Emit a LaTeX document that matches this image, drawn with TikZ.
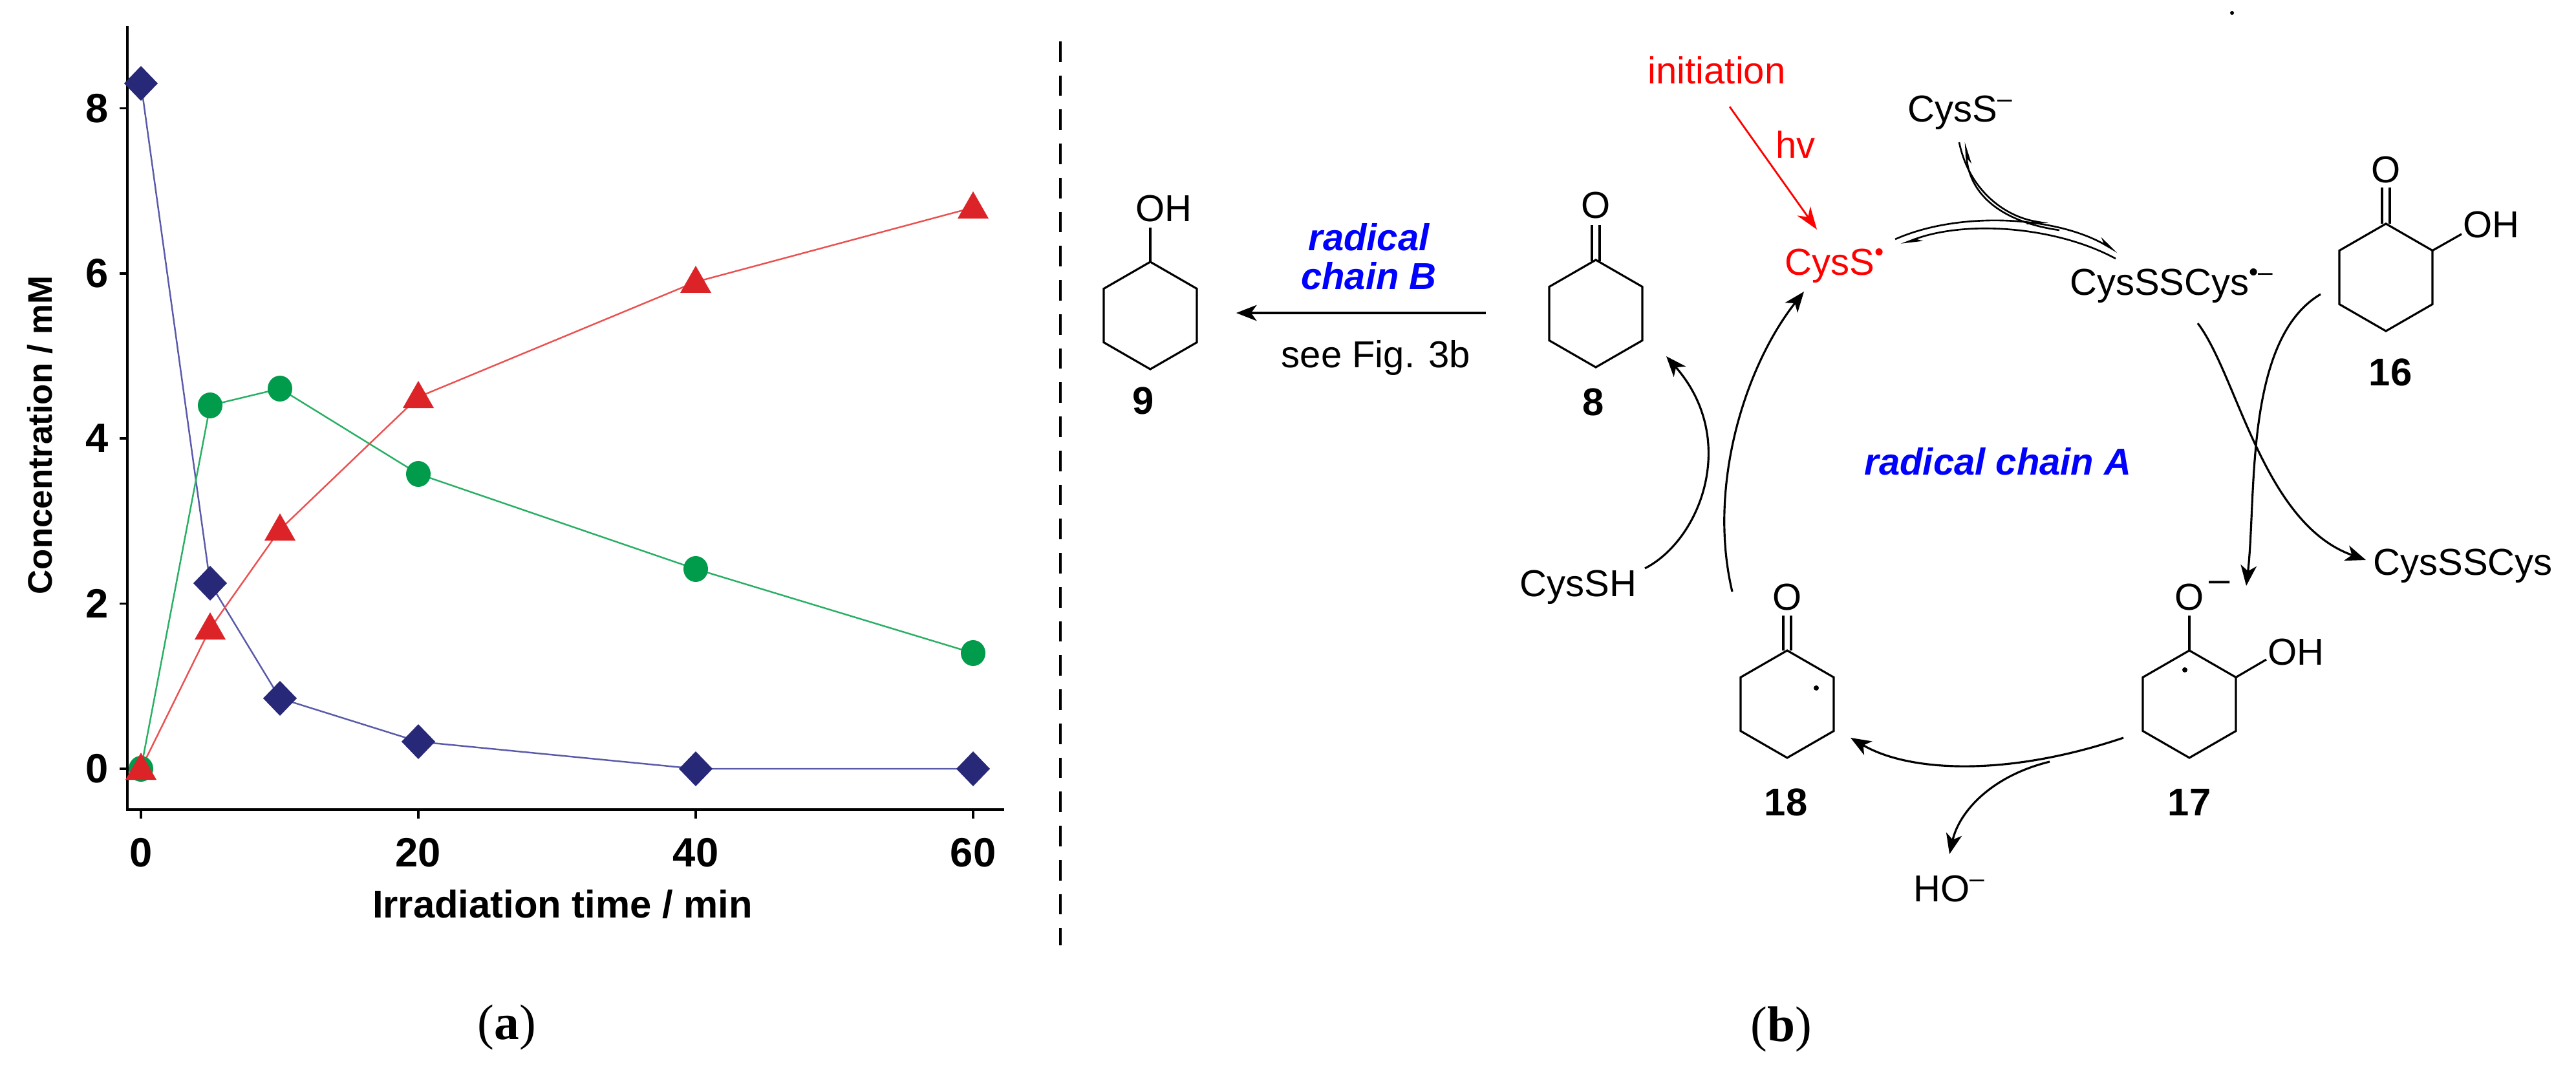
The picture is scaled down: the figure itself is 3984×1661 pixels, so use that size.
\documentclass[tikz,border=0pt]{standalone}
\usepackage{fontspec}
\setmainfont{Liberation Sans}
\newfontfamily\serifface{Liberation Serif}
\usetikzlibrary{arrows.meta}
\definecolor{dblue}{RGB}{40,40,120}
\definecolor{dgreen}{RGB}{0,155,75}
\definecolor{dred}{RGB}{220,35,40}
\definecolor{lblue}{RGB}{90,90,170}
\definecolor{lgreen}{RGB}{40,175,100}
\definecolor{lred}{RGB}{235,80,80}
\tikzset{
  chem/.style={font=\fontsize{16.5}{18}\selectfont},
  lab/.style={font=\fontsize{17}{19}\selectfont\bfseries},
  tick/.style={font=\fontsize{18}{20}\selectfont\bfseries},
  bond/.style={line width=0.9pt},
  rx/.style={line width=0.9pt,-{Stealth[length=9pt,width=7pt,inset=2.5pt]}},
  hp/.style={line width=0.75pt,-{Stealth[harpoon,length=8pt,width=4pt]}},
  hpr/.style={line width=0.75pt,-{Stealth[harpoon,swap,length=8pt,width=4pt]}},
  ring/.pic={\draw[bond] (0,-83)--(72,-41.5)--(72,41.5)--(0,83)--(-72,41.5)--(-72,-41.5)--cycle;},
}
\newcommand\dmark[2]{\fill[dblue] (#1+26,#2)--(#1,#2-27)--(#1-26,#2)--(#1,#2+27)--cycle;}
\newcommand\cmark[2]{\fill[dgreen] (#1,#2) ellipse (19 and 20);}
\newcommand\tmark[2]{\fill[dred] (#1-24,#2+17)--(#1+24,#2+17)--(#1,#2-25)--cycle;}
\begin{document}
\begin{tikzpicture}[x=0.01cm,y=-0.01cm]
\useasboundingbox (0,0) rectangle (3984,1661);
% ---------- panel (a) ----------
\draw[line width=1.3pt] (197,40)--(197,1252)--(1553,1252);
\foreach \v in {0,2,4,6,8} {
  \draw[line width=1pt] (197,1189-127.7*\v)--(185,1189-127.7*\v);
  \node[tick,anchor=east] at (180,1189-127.7*\v) {\v};}
\foreach \t in {0,20,40,60} {
  \draw[line width=1pt] (218+21.45*\t,1252)--(218+21.45*\t,1266);
  \node[tick] at (218+21.45*\t,1319) {\t};}
\node[font=\fontsize{17}{19}\selectfont\bfseries] (xt) at (870,1398) {Irradiation time / min};
\node[font=\fontsize{15}{17}\selectfont\bfseries,rotate=90] (yt) at (62,673) {Concentration / mM};
\draw[lblue,line width=0.7pt] (218,129)--(325,902)--(433,1080)--(647,1147)--(1076,1189)--(1505,1189);
\draw[lgreen,line width=0.7pt] (218,1189)--(325,627)--(433,601)--(647,733)--(1076,880)--(1505,1010);
\draw[lred,line width=0.7pt] (218,1189)--(325,972)--(433,819)--(647,614)--(1076,436)--(1505,321);
\cmark{218}{1189}\cmark{325}{627}\cmark{433}{601}\cmark{647}{733}\cmark{1076}{880}\cmark{1505}{1010}
\dmark{218}{129}\dmark{325}{902}\dmark{433}{1080}\dmark{647}{1147}\dmark{1076}{1189}\dmark{1505}{1189}
\tmark{218}{1189}\tmark{325}{972}\tmark{433}{819}\tmark{647}{614}\tmark{1076}{436}\tmark{1505}{321}
\node[font=\fontsize{22}{24}\selectfont\serifface] (pa) at (784,1589) {(\textbf{a})};
\draw[line width=1pt,dash pattern=on 9pt off 6pt] (1640,64)--(1640,1462);
% ---------- panel (b) ----------
\pic at (1779,488) {ring};
\draw[bond] (1779,405)--(1779,352);
\node[chem] (oh9) at (1800,323) {OH};
\node[lab] (l9) at (1768,620) {9};
\pic at (2468,485) {ring};
\draw[bond] (2462,404)--(2462,348) (2474,404)--(2474,348);
\node[chem] (o8) at (2468,318) {O};
\node[lab] (l8) at (2464,622) {8};
\coordinate (bs) at (2298,484); \coordinate (be) at (1912,484);
\draw[rx] (bs)--(be);
\node[font=\fontsize{16.5}{17}\selectfont\bfseries\itshape,blue,align=center] (rcb) at (2117,397) {radical\\chain B};
\node[chem] (fig) at (2128,553) {see Fig. 3b};
% chain
\node[chem,red] (init) at (2655,109) {initiation};
\node[chem,red] (hv) at (2777,223) {hv};
\node[chem,red] (cys) at (2838,411) {CysS\textsuperscript{•}};
\node[chem] (cysm) at (3032,174) {CysS\textsuperscript{–}};
\node[chem] (ssr) at (3359,442) {CysSSCys\textsuperscript{•–}};
\node[chem] (ss) at (3809,875) {CysSSCys};
\node[chem] (cysh) at (2441,908) {CysSH};
\node[chem] (ho) at (3015,1375) {HO\textsuperscript{–}};
\node[font=\fontsize{16.5}{17}\selectfont\bfseries\itshape,blue] (rca) at (3090,714) {radical chain A};
\fill (3452,20) circle (3);
% 16
\pic at (3690,429) {ring};
\draw[bond] (3684,346)--(3684,290) (3696,346)--(3696,290);
\node[chem] (o16) at (3690,263) {O};
\draw[bond] (3762,387.5)--(3807,362);
\node[chem] (oh16) at (3853,348) {OH};
\node[lab] (l16) at (3697,576) {16};
% 17
\pic at (3386,1089) {ring};
\draw[bond] (3386,1006)--(3386,952);
\node[chem] (o17) at (3386,924) {O};
\node[chem] at (3433,907) {–};
\fill (3379,1036) circle (4);
\draw[bond] (3458,1047.5)--(3505,1020);
\node[chem] (oh17) at (3551,1009) {OH};
\node[lab] (l17) at (3386,1241) {17};
% 18
\pic at (2764,1089) {ring};
\draw[bond] (2758,1006)--(2758,952) (2770,1006)--(2770,952);
\node[chem] (o18) at (2764,924) {O};
\fill (2809,1064) circle (4);
\node[lab] (l18) at (2762,1241) {18};
% arrows
\coordinate (a1) at (2675,165); \coordinate (a2) at (2810,355);
\draw[red,line width=0.8pt,-{Stealth[length=10pt,width=7pt]}] (a1)--(a2);
\draw[hp] (2931,370) .. controls (3030,326) and (3180,334) .. (3275,390);
\draw[hp] (3272,400) .. controls (3180,350) and (3040,340) .. (2940,378);
\draw[hpr] (3030,220) .. controls (3045,294) and (3100,334) .. (3168,346);
\draw[hpr] (3185,356) .. controls (3100,344) and (3045,304) .. (3040,220);
\draw[rx] (3399,500) .. controls (3460,580) and (3500,810) .. (3659,866);
\draw[rx] (3589,455) .. controls (3470,525) and (3490,770) .. (3474,906);
\draw[rx] (3284,1141) .. controls (3100,1203) and (2950,1193) .. (2862,1141);
\draw[rx] (3170,1178) .. controls (3080,1200) and (3030,1255) .. (3015,1321);
\draw[rx] (2679,915) .. controls (2640,750) and (2700,565) .. (2790,451);
\draw[rx] (2544,879) .. controls (2630,835) and (2690,680) .. (2577,551);
\node[font=\fontsize{22}{24}\selectfont\serifface] (pb) at (2755,1592) {(\textbf{b})};
\end{tikzpicture}
\end{document}
